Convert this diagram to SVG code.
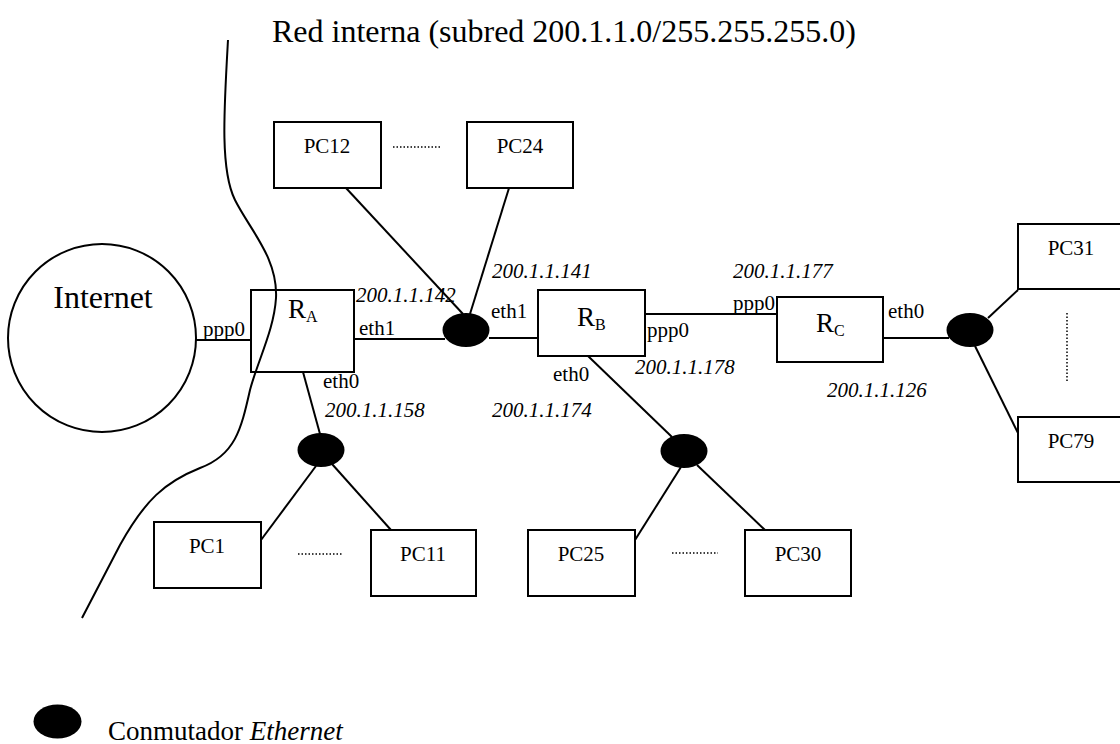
<svg xmlns="http://www.w3.org/2000/svg" width="1120" height="744" viewBox="0 0 1120 744">
<style>
.box{fill:#fff;stroke:#000;stroke-width:2}
.ln{fill:none;stroke:#000;stroke-width:2}
.dot{fill:none;stroke:#000;stroke-width:1.5;stroke-dasharray:1.5 2}
.sw{fill:#000}
text{font-family:"Liberation Serif","Times New Roman",serif;fill:#000}
.lb{font-size:21px}
.ip{font-size:21px;font-style:italic}
.pc{font-size:21px;text-anchor:middle}
.r{font-size:27px}
.sub{font-size:16px}
</style>
<rect width="1120" height="744" fill="#fff"/>
<text x="272" y="42" style="font-size:32px">Red interna (subred 200.1.1.0/255.255.255.0)</text>

<g id="connectors">
<line class="ln" x1="195" y1="340" x2="251" y2="340"/>
<line class="ln" x1="354" y1="339" x2="445" y2="339"/>
<line class="ln" x1="489" y1="338" x2="538" y2="338"/>
<line class="ln" x1="645" y1="314" x2="777" y2="314"/>
<line class="ln" x1="883" y1="338" x2="949" y2="338"/>
<line class="ln" x1="346" y1="188" x2="463" y2="314"/>
<line class="ln" x1="509" y1="188" x2="470" y2="314"/>
<line class="ln" x1="303" y1="372" x2="320" y2="434"/>
<line class="ln" x1="316" y1="466" x2="261" y2="540"/>
<line class="ln" x1="332" y1="464" x2="391" y2="530"/>
<line class="ln" x1="588" y1="356" x2="672" y2="437"/>
<line class="ln" x1="681" y1="467" x2="635" y2="540"/>
<line class="ln" x1="697" y1="465" x2="765" y2="530"/>
<line class="ln" x1="988" y1="318" x2="1018" y2="290"/>
<line class="ln" x1="975" y1="346" x2="1018" y2="433"/>
</g>

<path id="boundary" class="ln" d="M228 40 C224 110,220 170,235 200 C250 230,278 258,276 298 C274 330,258 360,250 390 C241 430,235 455,200 468 C165 482,145 500,120 545 L82 618"/>

<g id="internet">
<circle cx="102" cy="338" r="94" class="ln"/>
<text x="103" y="308" style="font-size:32px;text-anchor:middle">Internet</text>
<text x="203" y="336" class="lb">ppp0</text>
</g>

<g id="RA">
<rect class="box" x="251" y="290" width="103" height="82" fill-opacity="0"/>
<text x="288" y="318" class="r">R<tspan class="sub" dy="4">A</tspan></text>
<text x="359" y="335" class="lb">eth1</text>
<text x="323" y="388" class="lb">eth0</text>
<text x="356" y="302" class="ip">200.1.1.142</text>
<text x="325" y="417" class="ip">200.1.1.158</text>
</g>

<g id="RB">
<rect class="box" x="538" y="290" width="107" height="66"/>
<text x="577" y="326" class="r">R<tspan class="sub" dy="4">B</tspan></text>
<text x="491" y="318" class="lb">eth1</text>
<text x="647" y="337" class="lb">ppp0</text>
<text x="553" y="381" class="lb">eth0</text>
<text x="492" y="278" class="ip">200.1.1.141</text>
<text x="635" y="374" class="ip">200.1.1.178</text>
<text x="492" y="417" class="ip">200.1.1.174</text>
</g>

<g id="RC">
<rect class="box" x="777" y="297" width="106" height="65"/>
<text x="816" y="332" class="r">R<tspan class="sub" dy="4">C</tspan></text>
<text x="733" y="310" class="lb">ppp0</text>
<text x="888" y="318" class="lb">eth0</text>
<text x="733" y="278" class="ip">200.1.1.177</text>
<text x="827" y="397" class="ip">200.1.1.126</text>
</g>

<g id="switch1"><ellipse class="sw" cx="466" cy="330" rx="23.5" ry="17"/></g>
<g id="switch2"><ellipse class="sw" cx="321" cy="450" rx="23.5" ry="17"/></g>
<g id="switch3"><ellipse class="sw" cx="684" cy="451" rx="23.5" ry="17"/></g>
<g id="switch4"><ellipse class="sw" cx="970" cy="330" rx="23.5" ry="17"/></g>

<g id="PC12"><rect class="box" x="274" y="122" width="107" height="66"/><text x="327" y="153" class="pc">PC12</text></g>
<g id="PC24"><rect class="box" x="467" y="122" width="106" height="66"/><text x="520" y="153" class="pc">PC24</text></g>
<line class="dot" x1="393" y1="147" x2="440" y2="147"/>

<g id="PC1"><rect class="box" x="154" y="522" width="107" height="66"/><text x="207" y="553" class="pc">PC1</text></g>
<g id="PC11"><rect class="box" x="371" y="530" width="105" height="66"/><text x="423" y="561" class="pc">PC11</text></g>
<line class="dot" x1="298" y1="554" x2="343" y2="554"/>

<g id="PC25"><rect class="box" x="528" y="530" width="107" height="66"/><text x="581" y="561" class="pc">PC25</text></g>
<g id="PC30"><rect class="box" x="745" y="530" width="106" height="66"/><text x="798" y="561" class="pc">PC30</text></g>
<line class="dot" x1="672" y1="553" x2="718" y2="553"/>

<g id="PC31"><rect class="box" x="1018" y="224" width="110" height="65"/><text x="1071" y="255" class="pc">PC31</text></g>
<g id="PC79"><rect class="box" x="1018" y="417" width="110" height="65"/><text x="1071" y="448" class="pc">PC79</text></g>
<line class="dot" x1="1067" y1="313" x2="1067" y2="383"/>

<g id="legend">
<ellipse class="sw" cx="57.5" cy="721.5" rx="24" ry="17"/>
<text x="108" y="740" style="font-size:27px">Conmutador <tspan font-style="italic">Ethernet</tspan></text>
</g>
</svg>
